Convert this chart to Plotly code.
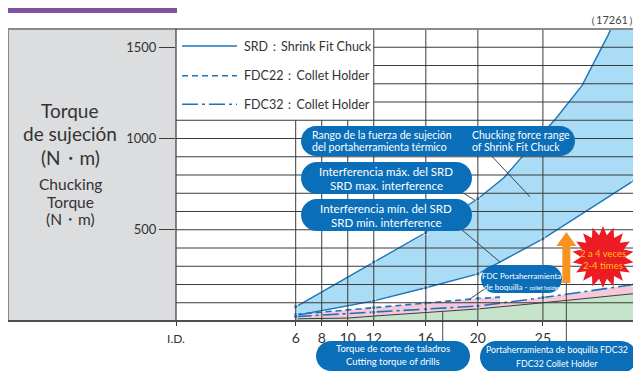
import math
import numpy as np
import plotly.graph_objects as go

# ---------------- data ----------------
diam_ticks = [6, 8, 10, 12, 16, 20, 25, 32]
diam_labels = ["6", "8", "10", "12", "16", "20", "25", "32"]
y_ticks = [500, 1000, 1500]

srd_max_x = [6, 12, 16, 20, 22, 24, 26, 28, 30, 32]
srd_max_y = [78, 323, 485, 670, 785, 950, 1110, 1290, 1565, 1880]

srd_min_x = [6, 12, 16, 20, 25, 32]
srd_min_y = [30, 110, 182, 258, 450, 770]

fdc22_x = [6, 12, 16, 20, 21.7]
fdc22_y = [36, 74, 98, 123, 131]

fdc32_x = [6, 12, 16, 20, 25, 32]
fdc32_y = [24, 48, 65, 82, 128, 200]

drill_x = [6, 10, 12, 16, 20, 25, 32]
drill_y = [12, 16, 27, 46, 66, 100, 150]

# ---------------- layout geometry (reference page pixels) ----------------
PAGE_W, PAGE_H = 641, 371
OFF = 8                      # default body margin of the html page
W, H = PAGE_W - OFF, PAGE_H - OFF
L, R, T, B = 176, 634, 29, 321
XMIN, XMAX = -3.2, 32
YMAX = 1600
LEG_X, LEG_Y = 12, 1100  # legend box corner (data units)

BLUE = "#1b75bb"
BUBBLE = "#0b6eb8"
GRID = "#3a3a3a"
TXT = "#333333"
FONT = "Lato, Noto Sans, sans-serif"


def dx(x):
    return L + (x - XMIN) / (XMAX - XMIN) * (R - L)


def dy(y):
    return B - y / YMAX * (B - T)


def px(p):
    return (p - L) / (R - L)


def py(p):
    return (B - p) / (B - T)


def path_from(points, close=True):
    s = "M " + " L ".join(f"{px(a):.5f},{py(b):.5f}" for a, b in points)
    return s + (" Z" if close else "")


def pill(x0, y0, x1, y1):
    r = (y1 - y0) / 2.0
    k = 0.5523 * r
    ym = (y0 + y1) / 2.0
    P = lambda a, b: f"{px(a):.5f},{py(b):.5f}"
    return (f"M {P(x0 + r, y0)} L {P(x1 - r, y0)} "
            f"C {P(x1 - r + k, y0)} {P(x1, ym - k)} {P(x1, ym)} "
            f"C {P(x1, ym + k)} {P(x1 - r + k, y1)} {P(x1 - r, y1)} "
            f"L {P(x0 + r, y1)} "
            f"C {P(x0 + r - k, y1)} {P(x0, ym + k)} {P(x0, ym)} "
            f"C {P(x0, ym - k)} {P(x0 + r - k, y0)} {P(x0 + r, y0)} Z")


fig = go.Figure()

# green: cutting torque of drills
fig.add_trace(go.Scatter(x=drill_x, y=drill_y, mode="lines", fill="tozeroy",
                         fillcolor="#c6e4c9", line=dict(width=0)))
# pink: collet holder band (drill line up to FDC22, then FDC32)
end_x = fdc22_x[-1]
step_y = float(np.interp(end_x, fdc32_x, fdc32_y))
top_x = fdc22_x + [end_x] + [x for x in fdc32_x if x > end_x]
top_y = fdc22_y + [step_y] + [y for x, y in zip(fdc32_x, fdc32_y) if x > end_x]
fig.add_trace(go.Scatter(x=top_x + drill_x[::-1], y=top_y + drill_y[::-1],
                         mode="lines", fill="toself", fillcolor="#f6c8da",
                         line=dict(width=0)))
# light blue: SRD range
fig.add_trace(go.Scatter(x=srd_max_x + srd_min_x[::-1], y=srd_max_y + srd_min_y[::-1],
                         mode="lines", fill="toself", fillcolor="#abdcf5",
                         line=dict(width=0)))
# drill line
fig.add_trace(go.Scatter(x=drill_x, y=drill_y, mode="lines",
                         line=dict(color="#3d3d3d", width=1)))


def msizes(xs):
    return [4 if x in diam_ticks else 0 for x in xs]


fig.add_trace(go.Scatter(x=srd_max_x, y=srd_max_y, mode="lines+markers",
                         line=dict(color=BLUE, width=1.4),
                         marker=dict(size=msizes(srd_max_x), symbol="square", color=BLUE)))
fig.add_trace(go.Scatter(x=srd_min_x, y=srd_min_y, mode="lines+markers",
                         line=dict(color=BLUE, width=1.4),
                         marker=dict(size=msizes(srd_min_x), symbol="square", color=BLUE)))
fig.add_trace(go.Scatter(x=fdc22_x, y=fdc22_y, mode="lines+markers",
                         line=dict(color=BLUE, width=1.6, dash="6px,4px"),
                         marker=dict(size=msizes(fdc22_x), symbol="square", color=BLUE)))
fig.add_trace(go.Scatter(x=fdc32_x, y=fdc32_y, mode="lines+markers",
                         line=dict(color=BLUE, width=1.6, dash="16px,4px,3px,4px"),
                         marker=dict(size=msizes(fdc32_x), symbol="square", color=BLUE)))

shapes = []
# grey title panel and purple header
shapes.append(dict(type="rect", xref="paper", yref="paper", x0=px(8), x1=0, y0=0, y1=1,
                   fillcolor="#dcdddf", line=dict(width=0), layer="below"))
shapes.append(dict(type="rect", xref="paper", yref="paper", x0=px(8), x1=px(177),
                   y0=py(13), y1=py(-12), fillcolor="#7d529f", line=dict(width=0)))

# grid (drawn above the filled areas, as in the reference)
for v in range(100, 1600, 100):
    xs = LEG_X if v > LEG_Y else XMIN
    shapes.append(dict(type="line", xref="x", yref="y", x0=xs, x1=XMAX, y0=v, y1=v,
                       line=dict(color=GRID, width=1), layer="above"))
for t in diam_ticks[:-1]:
    ye = LEG_Y if t < LEG_X else YMAX
    shapes.append(dict(type="line", xref="x", yref="y", x0=t, x1=t, y0=0, y1=ye,
                       line=dict(color=GRID, width=1), layer="above"))

# frame
shapes.append(dict(type="rect", xref="paper", yref="paper", x0=px(8), x1=1, y0=0, y1=1,
                   line=dict(color="#8a8a8a", width=2), layer="above"))
shapes.append(dict(type="line", xref="paper", yref="paper", x0=0, x1=0, y0=0, y1=1,
                   line=dict(color=GRID, width=1.2), layer="above"))
shapes.append(dict(type="line", xref="paper", yref="paper", x0=px(8), x1=1, y0=0, y1=0,
                   line=dict(color=GRID, width=1.5), layer="above"))

# legend samples
leg_items = [("SRD：Shrink Fit Chuck", "solid", 46),
             ("FDC22：Collet Holder", "6px,4px", 75.7),
             ("FDC32：Collet Holder", "16px,4px,3px,4px", 104.3)]
for _, dash, yy in leg_items:
    shapes.append(dict(type="line", xref="paper", yref="paper", x0=px(182), x1=px(237),
                       y0=py(yy), y1=py(yy), line=dict(color=BLUE, width=1.4, dash=dash)))

LINE = dict(color="#333333", width=0.9)


def leader(p0, xd, yd):
    shapes.append(dict(type="line", xref="paper", yref="paper",
                       x0=px(p0[0]), y0=py(p0[1]), x1=px(dx(xd)), y1=py(dy(yd)), line=LINE))


# leader lines from bubbles to the curves / regions
x1 = 24.0
leader((486, 150), x1, (np.interp(x1, srd_max_x, srd_max_y) + np.interp(x1, srd_min_x, srd_min_y)) / 2)
x2 = 19.8
leader((455, 188), x2, np.interp(x2, srd_max_x, srd_max_y))
x3 = 21.7
leader((455, 224), x3, np.interp(x3, srd_min_x, srd_min_y))
x4 = 19.35
leader((486, 288), x4, np.interp(x4, fdc22_x, fdc22_y))
x5 = 17.3
leader((dx(x5), 345), x5, np.interp(x5, drill_x, drill_y))
x6 = 26.8
arrow_lo, arrow_hi = 208, 488
leader((dx(x6), 345), x6, arrow_lo)

# bubbles
bubbles = [(301, 126, 575, 156), (301, 162, 472, 194), (301, 199, 472, 231),
           (481, 265, 562, 293), (316, 341, 470, 371), (480, 341, 637, 373)]
for b in bubbles:
    shapes.append(dict(type="path", xref="paper", yref="paper", path=pill(*b),
                       fillcolor=BUBBLE, line=dict(width=0)))

# orange arrow
ax = dx(x6)
yb, yt = dy(arrow_lo), dy(arrow_hi)
hb = yt + 14
arrow_pts = [(ax - 4, yb), (ax - 4, hb), (ax - 10, hb), (ax, yt), (ax + 10, hb), (ax + 4, hb), (ax + 4, yb)]
shapes.append(dict(type="path", xref="paper", yref="paper", path=path_from(arrow_pts),
                   fillcolor="#f7931e", line=dict(width=0)))

# red starburst
cx, cy, N = 603, 257, 18
star = []
for i in range(2 * N):
    a = -math.pi / 2 + i * math.pi / N
    r = 31 if i % 2 == 0 else 22
    star.append((cx + r * math.cos(a), cy + r * math.sin(a)))
shapes.append(dict(type="path", xref="paper", yref="paper", path=path_from(star),
                   fillcolor="#ed1c24", line=dict(width=0)))

ann = []


def text(s, x, y, size, color=TXT, family=FONT, anchor="center"):
    ann.append(dict(text=s, x=px(x), y=py(y), xref="paper", yref="paper", showarrow=False,
                    xanchor=anchor, yanchor="middle", font=dict(size=size, color=color, family=family)))


text("<b>High retentivity</b>", 92, -2, 17, "white")
text("（17261）", 612, 20, 11, "#444444")

text("Torque", 70, 110, 19)
text("de sujeción", 70, 133, 19)
text("(N・m)", 70, 157, 19)
text("Chucking", 70, 184, 15.5)
text("Torque", 70, 202, 15.5)
text("(N・m)", 70, 219, 15.5)

for label, _, yy in leg_items:
    text(label, 242, yy, 12.5, anchor="left")

W_ = "white"
text("Rango de la fuerza de sujeción", 310, 135.5, 10.5, W_, anchor="left")
text("del portaherramienta térmico", 310, 147, 10.5, W_, anchor="left")
text("Chucking force range", 470, 135.5, 10.5, W_, anchor="left")
text("of Shrink Fit Chuck", 470, 147, 10.5, W_, anchor="left")
text("Interferencia máx. del SRD", 386, 171.5, 11.5, W_)
text("SRD max. interference", 386, 185.5, 11.5, W_)
text("Interferencia mín. del SRD", 386, 208, 11.5, W_)
text("SRD min. interference", 386, 222, 11.5, W_)
text("FDC Portaherramienta", 521.5, 275.5, 8, W_)
text("de boquilla - <span style='font-size:5.5px'>collet holder</span>", 521.5, 287, 8, W_)
text("Torque de corte de taladros", 393, 348.5, 9.5, W_)
text("Cutting torque of drills", 393, 361.5, 9.5, W_)
text("Portaherramienta de boquilla FDC32", 557, 349, 8.8, W_)
text("FDC32 Collet Holder", 557, 363, 8.8, W_)
text("2 a 4 veces", 603, 253, 9.5, "#ffc20e")
text("2-4 times", 603, 265, 9.5, "#ffc20e")

fig.update_layout(
    width=W, height=H, template="none",
    margin=dict(l=L - OFF, r=W - (R - OFF), t=T - OFF, b=H - (B - OFF)),
    paper_bgcolor="white", plot_bgcolor="white",
    showlegend=False, hovermode=False,
    shapes=shapes, annotations=ann,
    xaxis=dict(range=[XMIN, XMAX], tickvals=[XMIN] + diam_ticks,
               ticktext=["<span style='font-size:12px'>I.D.</span>"] + diam_labels,
               ticks="outside", ticklen=4, tickcolor=GRID, showgrid=False, zeroline=False,
               showline=False, tickfont=dict(size=14, color=TXT, family=FONT), fixedrange=True),
    yaxis=dict(range=[0, YMAX], tickvals=y_ticks, ticks="outside", ticklen=16,
               tickcolor=GRID, showgrid=False, zeroline=False, showline=False,
               tickfont=dict(size=13, color=TXT, family=FONT), fixedrange=True),
)

fig.write_html("out.html")
